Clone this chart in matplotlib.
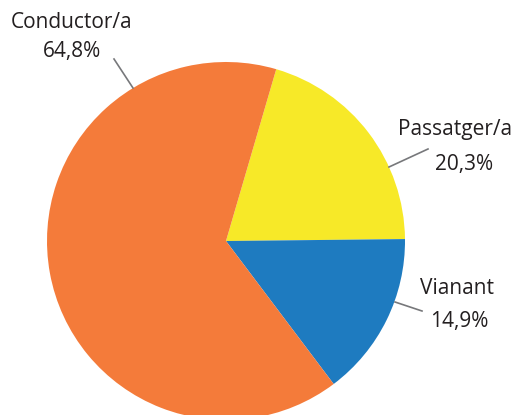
import matplotlib.pyplot as plt

labels = ['Passatger/a', 'Vianant', 'Conductor/a']
shares = [20.3, 14.9, 64.8]
share_text = ['20,3%', '14,9%', '64,8%']
colors = ['#F7E928', '#1E7BC0', '#F47B3A']

W, H = 513, 415
fig = plt.figure(figsize=(W / 100, H / 100), dpi=100)
ax = fig.add_axes([0, 0, 1, 1])

# pixel-like coordinates, y pointing up
cx, cy, r = 226, H - 241, 179
ax.pie(shares, colors=colors, startangle=73.7, counterclock=False,
       center=(cx, cy), radius=r, wedgeprops=dict(linewidth=0))
ax.set_xlim(0, W)
ax.set_ylim(0, H)
ax.set_aspect('equal')
ax.axis('off')

font = dict(family=['Open Sans', 'DejaVu Sans'], size=15, color='#231f20')

# label text positions (name, value) and leader lines, in pixels from top-left
layout = {
    'Conductor/a': ((72, 23), (72, 52), ((114, 59), (133, 88))),
    'Passatger/a': ((455, 130), (464, 165), ((428, 149), (389, 167))),
    'Vianant': ((457, 288), (459, 322), ((395, 302), (422, 311))),
}

for name, txt in zip(labels, share_text):
    (nx, ny), (vx, vy), ((x0, y0), (x1, y1)) = layout[name]
    ax.text(nx, H - ny, name, ha='center', va='center', **font)
    ax.text(vx, H - vy, txt, ha='center', va='center', **font)
    ax.plot([x0, x1], [H - y0, H - y1], color='#77787b', lw=1.2)

fig.savefig('out.png', dpi=100)
